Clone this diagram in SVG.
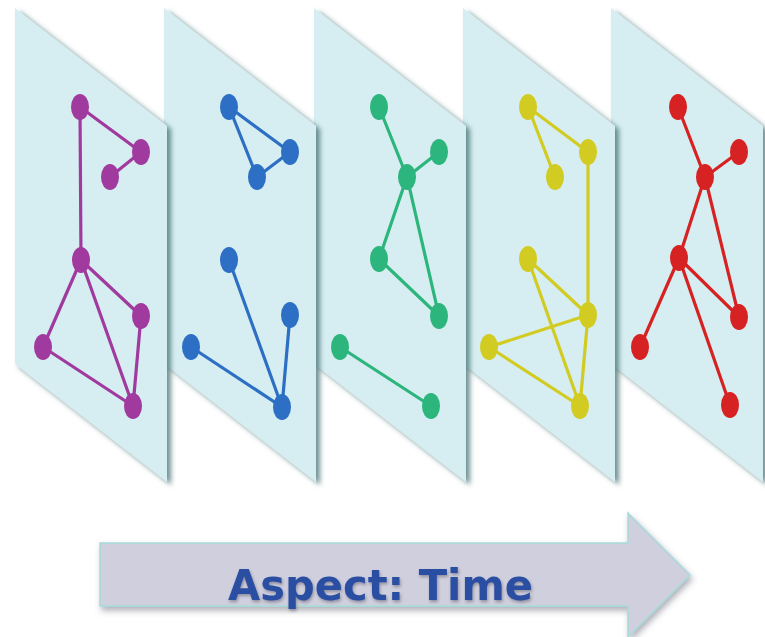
<svg xmlns="http://www.w3.org/2000/svg" width="765" height="637" viewBox="0 0 765 637">
<defs>
<filter id="sh" x="-10%" y="-10%" width="130%" height="130%">
<feDropShadow dx="4" dy="3" stdDeviation="2.5" flood-color="#3f6d70" flood-opacity="0.75"/>
</filter>
<filter id="ash" x="-10%" y="-20%" width="130%" height="150%">
<feDropShadow dx="2" dy="4" stdDeviation="3" flood-color="#555566" flood-opacity="0.45"/>
</filter>
<filter id="tsh" x="-10%" y="-20%" width="130%" height="150%">
<feDropShadow dx="1" dy="2" stdDeviation="1.5" flood-color="#333344" flood-opacity="0.4"/>
</filter>
<polygon id="plane" points="0,8 152,126 152,482 0,364"/>
</defs>
<style>
.plane{fill:#d6eef1;filter:url(#sh)}
.e{stroke-width:3.2;fill:none;stroke-linecap:round}
.p{stroke:#a03a9e}.pn{fill:#a03a9e}
.b{stroke:#2c6fc4}.bn{fill:#2c6fc4}
.g{stroke:#2cb57c}.gn{fill:#2cb57c}
.y{stroke:#d2cb22}.yn{fill:#d2cb22}
.r{stroke:#d62222}.rn{fill:#d62222}
.lbl{font-family:"DejaVu Sans","Liberation Sans",sans-serif;font-weight:bold;font-size:43px;fill:#2b4fa2;filter:url(#tsh)}
</style>
<rect width="765" height="637" fill="#ffffff"/>

<g id="layer5">
<use href="#plane" x="611" class="plane"/>
<g id="connectors5" class="e r">
<line x1="678" y1="107" x2="705" y2="177"/>
<line x1="739" y1="152" x2="705" y2="177"/>
<line x1="705" y1="177" x2="679" y2="258"/>
<line x1="705" y1="177" x2="739" y2="317"/>
<line x1="679" y1="258" x2="739" y2="317"/>
<line x1="679" y1="258" x2="640" y2="347"/>
<line x1="679" y1="258" x2="730" y2="405"/>
</g>
<g class="rn">
<g id="r-A"><ellipse cx="678" cy="107" rx="9" ry="13"/></g>
<g id="r-B"><ellipse cx="739" cy="152" rx="9" ry="13"/></g>
<g id="r-C"><ellipse cx="705" cy="177" rx="9" ry="13"/></g>
<g id="r-D"><ellipse cx="679" cy="258" rx="9" ry="13"/></g>
<g id="r-E"><ellipse cx="739" cy="317" rx="9" ry="13"/></g>
<g id="r-F"><ellipse cx="640" cy="347" rx="9" ry="13"/></g>
<g id="r-G"><ellipse cx="730" cy="405" rx="9" ry="13"/></g>
</g>
</g>

<g id="layer4">
<use href="#plane" x="463" class="plane"/>
<g id="connectors4" class="e y">
<line x1="528" y1="107" x2="588" y2="152"/>
<line x1="528" y1="107" x2="555" y2="177"/>
<line x1="588" y1="152" x2="588" y2="315"/>
<line x1="528" y1="259" x2="588" y2="315"/>
<line x1="528" y1="259" x2="580" y2="406"/>
<line x1="489" y1="347" x2="588" y2="315"/>
<line x1="489" y1="347" x2="580" y2="406"/>
<line x1="588" y1="315" x2="580" y2="406"/>
</g>
<g class="yn">
<g id="y-A"><ellipse cx="528" cy="107" rx="9" ry="13"/></g>
<g id="y-B"><ellipse cx="588" cy="152" rx="9" ry="13"/></g>
<g id="y-C"><ellipse cx="555" cy="177" rx="9" ry="13"/></g>
<g id="y-D"><ellipse cx="528" cy="259" rx="9" ry="13"/></g>
<g id="y-E"><ellipse cx="588" cy="315" rx="9" ry="13"/></g>
<g id="y-F"><ellipse cx="489" cy="347" rx="9" ry="13"/></g>
<g id="y-G"><ellipse cx="580" cy="406" rx="9" ry="13"/></g>
</g>
</g>

<g id="layer3">
<use href="#plane" x="314" class="plane"/>
<g id="connectors3" class="e g">
<line x1="379" y1="107" x2="407" y2="177"/>
<line x1="439" y1="152" x2="407" y2="177"/>
<line x1="407" y1="177" x2="379" y2="259"/>
<line x1="407" y1="177" x2="439" y2="316"/>
<line x1="379" y1="259" x2="439" y2="316"/>
<line x1="340" y1="347" x2="431" y2="406"/>
</g>
<g class="gn">
<g id="g-A"><ellipse cx="379" cy="107" rx="9" ry="13"/></g>
<g id="g-B"><ellipse cx="439" cy="152" rx="9" ry="13"/></g>
<g id="g-C"><ellipse cx="407" cy="177" rx="9" ry="13"/></g>
<g id="g-D"><ellipse cx="379" cy="259" rx="9" ry="13"/></g>
<g id="g-E"><ellipse cx="439" cy="316" rx="9" ry="13"/></g>
<g id="g-F"><ellipse cx="340" cy="347" rx="9" ry="13"/></g>
<g id="g-G"><ellipse cx="431" cy="406" rx="9" ry="13"/></g>
</g>
</g>

<g id="layer2">
<use href="#plane" x="164" class="plane"/>
<g id="connectors2" class="e b">
<line x1="229" y1="107" x2="290" y2="152"/>
<line x1="229" y1="107" x2="257" y2="177"/>
<line x1="290" y1="152" x2="257" y2="177"/>
<line x1="229" y1="260" x2="282" y2="407"/>
<line x1="290" y1="315" x2="282" y2="407"/>
<line x1="191" y1="347" x2="282" y2="407"/>
</g>
<g class="bn">
<g id="b-A"><ellipse cx="229" cy="107" rx="9" ry="13"/></g>
<g id="b-B"><ellipse cx="290" cy="152" rx="9" ry="13"/></g>
<g id="b-C"><ellipse cx="257" cy="177" rx="9" ry="13"/></g>
<g id="b-D"><ellipse cx="229" cy="260" rx="9" ry="13"/></g>
<g id="b-E"><ellipse cx="290" cy="315" rx="9" ry="13"/></g>
<g id="b-F"><ellipse cx="191" cy="347" rx="9" ry="13"/></g>
<g id="b-G"><ellipse cx="282" cy="407" rx="9" ry="13"/></g>
</g>
</g>

<g id="layer1">
<use href="#plane" x="15" class="plane"/>
<g id="connectors1" class="e p">
<line x1="80" y1="107" x2="141" y2="152"/>
<line x1="141" y1="152" x2="110" y2="177"/>
<line x1="80" y1="107" x2="81" y2="260"/>
<line x1="81" y1="260" x2="141" y2="316"/>
<line x1="81" y1="260" x2="43" y2="347"/>
<line x1="81" y1="260" x2="133" y2="406"/>
<line x1="141" y1="316" x2="133" y2="406"/>
<line x1="43" y1="347" x2="133" y2="406"/>
</g>
<g class="pn">
<g id="p-A"><ellipse cx="80" cy="107" rx="9" ry="13"/></g>
<g id="p-B"><ellipse cx="141" cy="152" rx="9" ry="13"/></g>
<g id="p-C"><ellipse cx="110" cy="177" rx="9" ry="13"/></g>
<g id="p-D"><ellipse cx="81" cy="260" rx="9" ry="13"/></g>
<g id="p-E"><ellipse cx="141" cy="316" rx="9" ry="13"/></g>
<g id="p-F"><ellipse cx="43" cy="347" rx="9" ry="13"/></g>
<g id="p-G"><ellipse cx="133" cy="406" rx="9" ry="13"/></g>
</g>
</g>

<g id="time-arrow">
<polygon points="100,543 628,543 628,513 690,575 628,637 628,606 100,606" fill="#cfcfdd" stroke="#a6dcda" stroke-width="1.5" filter="url(#ash)"/>
<text class="lbl" x="228" y="600" textLength="305" lengthAdjust="spacingAndGlyphs">Aspect: Time</text>
</g>
</svg>
